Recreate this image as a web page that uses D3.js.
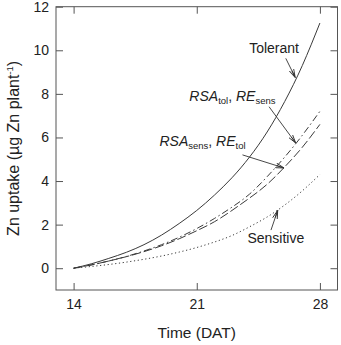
<!DOCTYPE html>
<html>
<head>
<meta charset="utf-8">
<script src="https://cdn.jsdelivr.net/npm/d3@7"></script>
<style>
  body { margin: 0; background: #fff; }
  text { font-family: "Liberation Sans", Arial, sans-serif; fill: #222; }
</style>
</head>
<body>
<svg id="chart" width="341" height="345"></svg>
<script>
// days after transplanting
const days = [14, 15, 16, 17, 18, 19, 20, 21, 22, 23, 24, 25, 26, 27, 28]

// Zn uptake, ug Zn per plant
const tolerant  = [0, 0.2, 0.45, 0.73, 1.08, 1.52, 2.05, 2.65, 3.35, 4.15, 5.1, 6.25, 7.65, 9.3, 11.25]
const rsaTolReSens = [0, 0.15, 0.33, 0.54, 0.79, 1.08, 1.42, 1.82, 2.28, 2.8, 3.4, 4.2, 5.1, 6.1, 7.2]
const rsaSensReTol = [0, 0.15, 0.33, 0.53, 0.76, 1.03, 1.35, 1.72, 2.13, 2.65, 3.22, 3.85, 4.65, 5.55, 6.6]
const sensitive = [0, 0.08, 0.17, 0.28, 0.41, 0.56, 0.74, 0.95, 1.2, 1.5, 1.9, 2.35, 2.9, 3.55, 4.3]

const xTicks = [14, 21, 28]
const yTicks = [0, 2, 4, 6, 8, 10, 12]

const series = [
  { name: "tolerant", values: tolerant, dash: null },
  { name: "rsaTolReSens", values: rsaTolReSens, dash: "7,3,1.5,3" },
  { name: "rsaSensReTol", values: rsaSensReTol, dash: "9,3" },
  { name: "sensitive", values: sensitive, dash: "1.2,2.6" }
]

// arrows in data units: [fromDay, fromVal] -> [toDay, toVal]
const arrows = [
  { from: [26.06, 9.63], to: [26.6, 8.75] },
  { from: [25.11, 7.41], to: [26.62, 5.75] },
  { from: [23.6, 5.2], to: [25.96, 4.6] },
  { from: [25.22, 1.75], to: [25.6, 2.65] }
]

const svg = d3.select("#chart")
const frame = { left: 56, right: 337.5, top: 6.7, bottom: 290 }

const x = d3.scaleLinear().domain([13, 29]).range([frame.left, frame.right])
const y = d3.scaleLinear().domain([-1, 12]).range([frame.bottom, frame.top])

// axes, ticks pointing inward on all four sides
svg.append("g")
  .attr("transform", `translate(${frame.left},0)`)
  .call(d3.axisLeft(y).tickValues(yTicks).tickSizeInner(-7).tickSizeOuter(0).tickPadding(7))
  .call(g => g.select(".domain").remove())
  .call(g => g.selectAll("text").attr("font-size", 14).attr("fill", "#222").attr("font-family", null))

svg.append("g")
  .attr("transform", `translate(${frame.right},0)`)
  .call(d3.axisRight(y).tickValues(yTicks).tickSizeInner(-7).tickSizeOuter(0).tickFormat(""))
  .call(g => g.select(".domain").remove())

svg.append("g")
  .attr("transform", `translate(0,${frame.bottom})`)
  .call(d3.axisBottom(x).tickValues(xTicks).tickSizeInner(-7).tickSizeOuter(0).tickPadding(9))
  .call(g => g.select(".domain").remove())
  .call(g => g.selectAll("text").attr("font-size", 14).attr("fill", "#222").attr("font-family", null))

svg.append("g")
  .attr("transform", `translate(0,${frame.top})`)
  .call(d3.axisTop(x).tickValues(xTicks).tickSizeInner(-7).tickSizeOuter(0).tickFormat(""))
  .call(g => g.select(".domain").remove())

svg.selectAll(".tick line").attr("stroke", "#555")

svg.append("rect")
  .attr("x", frame.left)
  .attr("y", frame.top)
  .attr("width", frame.right - frame.left)
  .attr("height", frame.bottom - frame.top)
  .attr("fill", "none")
  .attr("stroke", "#555")
  .attr("stroke-width", 1)

// curves
const line = d3.line()
  .x((d, i) => x(days[i]))
  .y(d => y(d))
  .curve(d3.curveNatural)

svg.append("g")
  .selectAll("path")
  .data(series)
  .join("path")
  .attr("d", d => line(d.values))
  .attr("fill", "none")
  .attr("stroke", "#3a3a3a")
  .attr("stroke-width", 1)
  .attr("stroke-dasharray", d => d.dash)

// arrows
svg.append("defs").append("marker")
  .attr("id", "head")
  .attr("markerUnits", "userSpaceOnUse")
  .attr("viewBox", "0 0 9 6")
  .attr("refX", 8.5)
  .attr("refY", 3)
  .attr("markerWidth", 9)
  .attr("markerHeight", 6)
  .attr("orient", "auto")
  .append("path")
  .attr("d", "M0,0.6 L8.5,3 L0,5.4 M1,3 L8.5,3")
  .attr("fill", "none")
  .attr("stroke", "#333")
  .attr("stroke-width", 0.9)

svg.append("g")
  .selectAll("line")
  .data(arrows)
  .join("line")
  .attr("x1", d => x(d.from[0]))
  .attr("y1", d => y(d.from[1]))
  .attr("x2", d => x(d.to[0]))
  .attr("y2", d => y(d.to[1]))
  .attr("stroke", "#333")
  .attr("stroke-width", 0.9)
  .attr("marker-end", "url(#head)")

// labels
const label = (day, val) => svg.append("text")
  .attr("x", x(day))
  .attr("y", y(val))
  .attr("font-size", 14)

label(23.98, 9.89).text("Tolerant")
label(23.88, 1.17).text("Sensitive")

const subLabel = (day, val, a, subA, b, subB) => {
  const t = label(day, val)
  t.append("tspan").attr("font-style", "italic").text(a)
  t.append("tspan").attr("font-size", 9.5).attr("dy", 3).text(subA)
  t.append("tspan").attr("dy", -3).text(", ")
  t.append("tspan").attr("font-style", "italic").text(b)
  t.append("tspan").attr("font-size", 9.5).attr("dy", 3).text(subB)
}
subLabel(20.58, 7.68, "RSA", "tol", "RE", "sens")
subLabel(18.88, 5.6, "RSA", "sens", "RE", "tol")

// axis titles
svg.append("text")
  .attr("x", (frame.left + frame.right) / 2)
  .attr("y", 338)
  .attr("text-anchor", "middle")
  .attr("font-size", 15.5)
  .text("Time (DAT)")

const yTitle = svg.append("text")
  .attr("transform", `translate(18.5,${(frame.top + frame.bottom) / 2}) rotate(-90)`)
  .attr("text-anchor", "middle")
  .attr("font-size", 16)
yTitle.append("tspan").text("Zn uptake (µg Zn plant")
yTitle.append("tspan").attr("font-size", 9.5).attr("dy", -6).text("-1")
yTitle.append("tspan").attr("dy", 6).text(")")
</script>
</body>
</html>
